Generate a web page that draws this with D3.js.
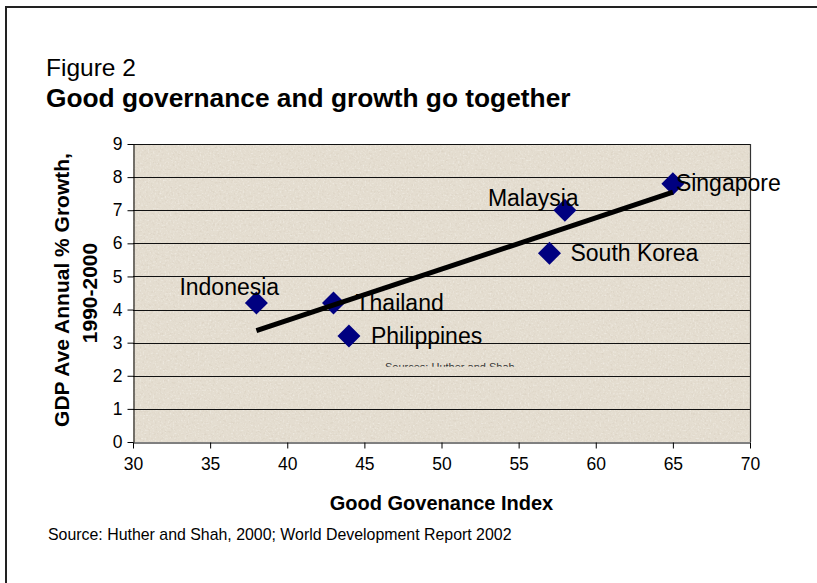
<!DOCTYPE html>
<html><head><meta charset="utf-8">
<script src="https://cdn.jsdelivr.net/npm/d3@7/dist/d3.min.js"></script>
<style>
body{margin:0;background:#fff;}
svg{display:block;font-family:"Liberation Sans",Arial,Helvetica,sans-serif;}
</style>
</head><body>
<svg id="chart" width="817" height="583"></svg>
<script>
// ---------- data ----------
const countries  = ["Indonesia", "Thailand", "Philippines", "South Korea", "Malaysia", "Singapore"];
const governance = [38, 43, 44, 57, 58, 65];
const growth     = [4.2, 4.2, 3.2, 5.7, 7.0, 7.8];
const xTicks = [30, 35, 40, 45, 50, 55, 60, 65, 70];
const yTicks = [0, 1, 2, 3, 4, 5, 6, 7, 8, 9];
const titleLine1 = "Figure 2";
const titleLine2 = "Good governance and growth go together";
const xTitle = "Good Govenance Index";
const yTitleLines = ["GDP Ave Annual % Growth,", "1990-2000"];
const sourceNote = "Source: Huther and Shah, 2000; World Development Report 2002";
const innerNote = "Sources: Huther and Shah";

// ---------- layout (positions only) ----------
const plot = {left: 133, right: 750, top: 144, bottom: 442};
const labelLayout = {
  "Indonesia":   {dx: -77, dy: -8},
  "Thailand":    {dx: 22,  dy: 8},
  "Philippines": {dx: 22,  dy: 8},
  "South Korea": {dx: 21,  dy: 8},
  "Malaysia":    {dx: -77, dy: -4},
  "Singapore":   {dx: 3,   dy: 7}
};

const svg = d3.select("#chart");
const defs = svg.append("defs");

// granite-like texture for plot background
const f = defs.append("filter").attr("id", "speckle").attr("x", 0).attr("y", 0).attr("width", 1).attr("height", 1);
f.append("feTurbulence").attr("type", "fractalNoise").attr("baseFrequency", 0.45).attr("numOctaves", 2).attr("seed", 7).attr("result", "n");
f.append("feColorMatrix").attr("in", "n").attr("type", "matrix")
  .attr("values", "0 0 0 0 0.62  0 0 0 0 0.55  0 0 0 0 0.45  -2.2 0 0 0 1.05");
const f2 = defs.append("filter").attr("id", "speckle2").attr("x", 0).attr("y", 0).attr("width", 1).attr("height", 1);
f2.append("feTurbulence").attr("type", "fractalNoise").attr("baseFrequency", 0.6).attr("numOctaves", 1).attr("seed", 3).attr("result", "n");
f2.append("feColorMatrix").attr("in", "n").attr("type", "matrix")
  .attr("values", "0 0 0 0 1  0 0 0 0 1  0 0 0 0 0.97  2.4 0 0 0 -1.3");

defs.append("clipPath").attr("id", "noteClip")
  .append("rect").attr("x", 300).attr("y", 300).attr("width", 300).attr("height", 66.8);

// outer frame
svg.append("rect").attr("x", 6).attr("y", 7).attr("width", 900).attr("height", 700)
  .attr("fill", "none").attr("stroke", "#222").attr("stroke-width", 2);

// titles
svg.append("text").attr("x", 46).attr("y", 76).attr("font-size", 24.5).attr("fill", "#000").text(titleLine1);
svg.append("text").attr("x", 46).attr("y", 107).attr("font-size", 26.3).attr("font-weight", "bold").attr("fill", "#000").text(titleLine2);

// scales
const x = d3.scaleLinear().domain([30, 70]).range([plot.left, plot.right]);
const y = d3.scaleLinear().domain([0, 9]).range([plot.bottom, plot.top]);

// plot background
const bg = () => svg.append("rect").attr("x", plot.left).attr("y", plot.top)
  .attr("width", plot.right - plot.left).attr("height", plot.bottom - plot.top);
bg().attr("fill", "#e4ddd0");
bg().attr("filter", "url(#speckle)").attr("opacity", 0.5);
bg().attr("filter", "url(#speckle2)").attr("opacity", 0.55);

// gridlines
svg.append("g").selectAll("line").data(yTicks.filter(d => d > 0)).join("line")
  .attr("x1", plot.left).attr("x2", plot.right)
  .attr("y1", d => Math.round(y(d)) + 0.5).attr("y2", d => Math.round(y(d)) + 0.5)
  .attr("stroke", "#111").attr("stroke-width", 1);

// right border of plot
svg.append("line").attr("x1", plot.right + 0.5).attr("x2", plot.right + 0.5)
  .attr("y1", plot.top).attr("y2", plot.bottom).attr("stroke", "#333").attr("stroke-width", 1.2);

// inner clipped note
svg.append("text").attr("x", 385).attr("y", 370.6).attr("font-size", 11).attr("fill", "#333")
  .attr("clip-path", "url(#noteClip)").text(innerNote);

// axes
const yAxis = svg.append("g").attr("transform", `translate(${plot.left + 0.5},0)`)
  .call(d3.axisLeft(y).tickValues(yTicks).tickFormat(d3.format("d")).tickSize(6).tickSizeOuter(0).tickPadding(5));
const xAxis = svg.append("g").attr("transform", `translate(0,${plot.bottom + 0.5})`)
  .call(d3.axisBottom(x).tickValues(xTicks).tickFormat(d3.format("d")).tickSize(6).tickSizeOuter(0).tickPadding(9));
[xAxis, yAxis].forEach(a => {
  a.attr("font-family", null).attr("font-size", null);
  a.selectAll("text").attr("font-size", 17.5).attr("fill", "#000");
  a.selectAll("line").attr("stroke", "#000");
  a.select(".domain").attr("stroke", "#000");
});

// axis titles
svg.append("text").attr("x", (plot.left + plot.right) / 2).attr("y", 510)
  .attr("text-anchor", "middle").attr("font-size", 20).attr("font-weight", "bold").text(xTitle);
const yMid = (plot.top + plot.bottom) / 2 - 3;
svg.append("text").attr("transform", `translate(69,${yMid}) rotate(-90)`)
  .attr("text-anchor", "middle").attr("font-size", 21).attr("font-weight", "bold").text(yTitleLines[0]);
svg.append("text").attr("transform", `translate(97,${yMid + 3}) rotate(-90)`)
  .attr("text-anchor", "middle").attr("font-size", 21).attr("font-weight", "bold").text(yTitleLines[1]);

// source
svg.append("text").attr("x", 48).attr("y", 540).attr("font-size", 15.9).attr("fill", "#000").text(sourceNote);

// points
const pts = countries.map((c, i) => ({name: c, gx: governance[i], gy: growth[i]}));
const diamond = d3.symbol().type(d3.symbolSquare).size(265);
svg.append("g").selectAll("path").data(pts).join("path")
  .attr("d", diamond)
  .attr("transform", d => `translate(${x(d.gx)},${y(d.gy)}) rotate(45)`)
  .attr("fill", "#000080");

// linear trendline (least squares fit of the data)
const mx = d3.mean(governance), my = d3.mean(growth);
const sxy = d3.sum(governance, (g, i) => (g - mx) * (growth[i] - my));
const sxx = d3.sum(governance, g => (g - mx) ** 2);
const slope = sxy / sxx, intercept = my - slope * mx;
const [x0, x1] = d3.extent(governance);
svg.append("line")
  .attr("x1", x(x0)).attr("y1", y(intercept + slope * x0))
  .attr("x2", x(x1)).attr("y2", y(intercept + slope * x1))
  .attr("stroke", "#000").attr("stroke-width", 5);

// labels
svg.append("g").selectAll("text").data(pts).join("text")
  .attr("x", d => x(d.gx) + labelLayout[d.name].dx)
  .attr("y", d => y(d.gy) + labelLayout[d.name].dy)
  .attr("font-size", 23).attr("fill", "#000").text(d => d.name);
</script>
</body></html>
